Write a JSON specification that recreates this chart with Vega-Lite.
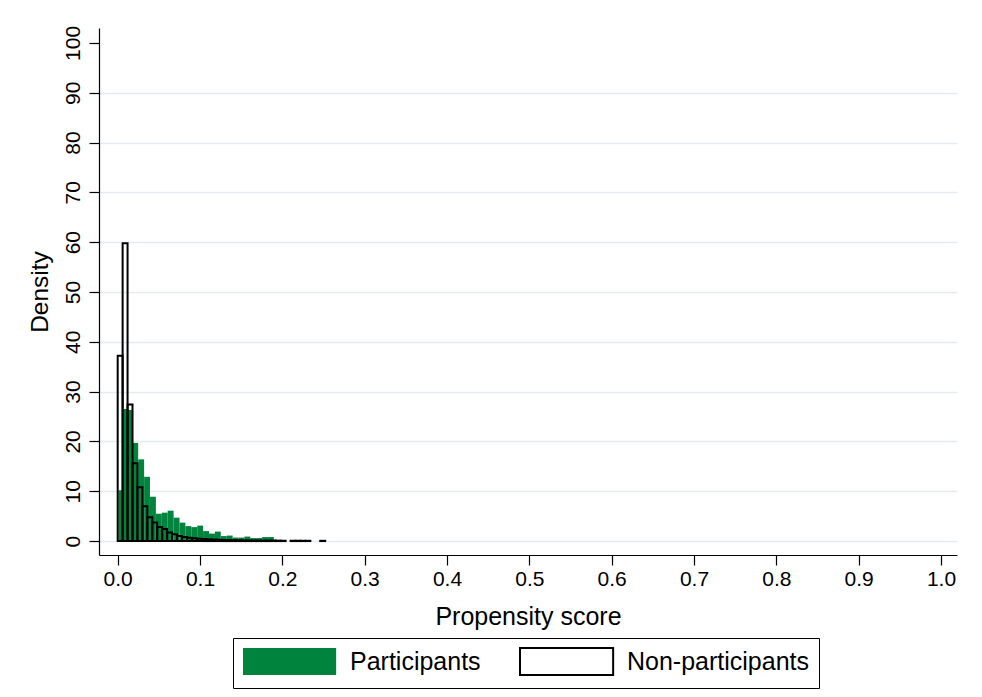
{
  "$schema": "https://vega.github.io/schema/vega-lite/v6.json",
  "width": 858,
  "height": 527,
  "autosize": {"type": "none"},
  "padding": {"left": 99, "top": 28, "right": 25, "bottom": 142},
  "background": "white",
  "config": {
    "font": "Liberation Sans",
    "view": {"stroke": null}
  },
  "data": {
    "values": [
      {"group": "Participants", "start": 0.0010, "end": 0.0070, "density": 10.2},
      {"group": "Participants", "start": 0.0070, "end": 0.0124, "density": 26.5},
      {"group": "Participants", "start": 0.0124, "end": 0.0177, "density": 26.3},
      {"group": "Participants", "start": 0.0177, "end": 0.0249, "density": 19.7},
      {"group": "Participants", "start": 0.0249, "end": 0.0321, "density": 16.4},
      {"group": "Participants", "start": 0.0321, "end": 0.0392, "density": 12.9},
      {"group": "Participants", "start": 0.0392, "end": 0.0464, "density": 8.9},
      {"group": "Participants", "start": 0.0464, "end": 0.0536, "density": 5.5},
      {"group": "Participants", "start": 0.0536, "end": 0.0607, "density": 5.7},
      {"group": "Participants", "start": 0.0607, "end": 0.0679, "density": 6.1},
      {"group": "Participants", "start": 0.0679, "end": 0.0751, "density": 4.7},
      {"group": "Participants", "start": 0.0751, "end": 0.0822, "density": 3.7},
      {"group": "Participants", "start": 0.0822, "end": 0.0894, "density": 3.0},
      {"group": "Participants", "start": 0.0894, "end": 0.0966, "density": 2.8},
      {"group": "Participants", "start": 0.0966, "end": 0.1037, "density": 3.1},
      {"group": "Participants", "start": 0.1037, "end": 0.1109, "density": 2.0},
      {"group": "Participants", "start": 0.1109, "end": 0.1181, "density": 1.5},
      {"group": "Participants", "start": 0.1181, "end": 0.1252, "density": 1.9},
      {"group": "Participants", "start": 0.1252, "end": 0.1324, "density": 1.0},
      {"group": "Participants", "start": 0.1324, "end": 0.1396, "density": 1.1},
      {"group": "Participants", "start": 0.1396, "end": 0.1467, "density": 0.7},
      {"group": "Participants", "start": 0.1467, "end": 0.1539, "density": 0.7},
      {"group": "Participants", "start": 0.1539, "end": 0.1611, "density": 0.9},
      {"group": "Participants", "start": 0.1611, "end": 0.1682, "density": 0.6},
      {"group": "Participants", "start": 0.1682, "end": 0.1754, "density": 0.6},
      {"group": "Participants", "start": 0.1754, "end": 0.1826, "density": 0.8},
      {"group": "Participants", "start": 0.1826, "end": 0.1897, "density": 0.8},
      {"group": "Non-participants", "start": 0.000, "end": 0.006, "density": 37.2},
      {"group": "Non-participants", "start": 0.006, "end": 0.012, "density": 59.8},
      {"group": "Non-participants", "start": 0.012, "end": 0.018, "density": 27.4},
      {"group": "Non-participants", "start": 0.018, "end": 0.024, "density": 15.6},
      {"group": "Non-participants", "start": 0.024, "end": 0.030, "density": 10.8},
      {"group": "Non-participants", "start": 0.030, "end": 0.036, "density": 7.0},
      {"group": "Non-participants", "start": 0.036, "end": 0.042, "density": 4.8},
      {"group": "Non-participants", "start": 0.042, "end": 0.048, "density": 3.7},
      {"group": "Non-participants", "start": 0.048, "end": 0.054, "density": 2.8},
      {"group": "Non-participants", "start": 0.054, "end": 0.060, "density": 2.4},
      {"group": "Non-participants", "start": 0.060, "end": 0.066, "density": 1.7},
      {"group": "Non-participants", "start": 0.066, "end": 0.072, "density": 1.35},
      {"group": "Non-participants", "start": 0.072, "end": 0.078, "density": 1.0},
      {"group": "Non-participants", "start": 0.078, "end": 0.084, "density": 0.8},
      {"group": "Non-participants", "start": 0.084, "end": 0.090, "density": 0.65},
      {"group": "Non-participants", "start": 0.090, "end": 0.096, "density": 0.55},
      {"group": "Non-participants", "start": 0.096, "end": 0.102, "density": 0.45},
      {"group": "Non-participants", "start": 0.102, "end": 0.108, "density": 0.4},
      {"group": "Non-participants", "start": 0.108, "end": 0.114, "density": 0.35},
      {"group": "Non-participants", "start": 0.114, "end": 0.120, "density": 0.3},
      {"group": "Non-participants", "start": 0.120, "end": 0.126, "density": 0.25},
      {"group": "Non-participants", "start": 0.126, "end": 0.132, "density": 0.22},
      {"group": "Non-participants", "start": 0.132, "end": 0.138, "density": 0.2},
      {"group": "Non-participants", "start": 0.138, "end": 0.144, "density": 0.18},
      {"group": "Non-participants", "start": 0.144, "end": 0.150, "density": 0.15},
      {"group": "Non-participants", "start": 0.150, "end": 0.156, "density": 0.13},
      {"group": "Non-participants", "start": 0.156, "end": 0.162, "density": 0.12},
      {"group": "Non-participants", "start": 0.162, "end": 0.168, "density": 0.1},
      {"group": "Non-participants", "start": 0.168, "end": 0.174, "density": 0.1},
      {"group": "Non-participants", "start": 0.174, "end": 0.180, "density": 0.08},
      {"group": "Non-participants", "start": 0.180, "end": 0.186, "density": 0.08},
      {"group": "Non-participants", "start": 0.186, "end": 0.192, "density": 0.1},
      {"group": "Non-participants", "start": 0.192, "end": 0.198, "density": 0.08},
      {"group": "Non-participants", "start": 0.198, "end": 0.204, "density": 0.06},
      {"group": "Non-participants", "start": 0.210, "end": 0.216, "density": 0.06},
      {"group": "Non-participants", "start": 0.216, "end": 0.222, "density": 0.06},
      {"group": "Non-participants", "start": 0.222, "end": 0.228, "density": 0.05},
      {"group": "Non-participants", "start": 0.228, "end": 0.234, "density": 0.05},
      {"group": "Non-participants", "start": 0.246, "end": 0.252, "density": 0.05}
    ]
  },
  "mark": {"type": "rect", "strokeWidth": 2},
  "encoding": {
    "x": {
      "field": "start", "type": "quantitative",
      "scale": {"domain": [-0.0227, 1.0194], "nice": false, "zero": false},
      "axis": {
        "title": "Propensity score",
        "values": [0, 0.1, 0.2, 0.3, 0.4, 0.5, 0.6, 0.7, 0.8, 0.9, 1.0],
        "format": ".1f",
        "grid": false,
        "domainColor": "black", "domainWidth": 1.2,
        "tickColor": "black", "tickSize": 10, "tickWidth": 1.2,
        "labelFontSize": 21, "labelColor": "black", "labelPadding": 3,
        "titleFontSize": 25, "titleFontWeight": "normal", "titleColor": "black", "titlePadding": 15
      }
    },
    "x2": {"field": "end"},
    "y": {
      "field": "density", "type": "quantitative",
      "scale": {"domain": [-2.8, 103], "nice": false, "zero": false},
      "axis": {
        "title": "Density",
        "values": [0, 10, 20, 30, 40, 50, 60, 70, 80, 90, 100],
        "format": "d",
        "grid": true,
        "gridColor": {"condition": {"test": "datum.value === 100", "value": "transparent"}, "value": "#e3edf1"},
        "gridWidth": 1.6,
        "domainColor": "black", "domainWidth": 1.2,
        "tickColor": "black", "tickSize": 10, "tickWidth": 1.2,
        "labelAngle": 270, "labelAlign": "center", "labelBaseline": "bottom",
        "labelFontSize": 21, "labelColor": "black", "labelPadding": 6,
        "titleFontSize": 24.5, "titleFontWeight": "normal", "titleColor": "black", "titlePadding": 10
      }
    },
    "y2": {"datum": 0},
    "fill": {
      "field": "group", "type": "nominal",
      "scale": {"domain": ["Participants", "Non-participants"], "range": ["#00843D", "transparent"]},
      "legend": {
        "title": null,
        "orient": "none", "legendX": 134, "legendY": 610,
        "direction": "horizontal",
        "symbolType": "M-1,-1H5.9V1H-1Z",
        "symbolSize": 729,
        "symbolStrokeWidth": 2,
        "labelOffset": 79,
        "labelFontSize": 25, "labelColor": "black", "labelLimit": 500,
        "columnPadding": 35,
        "padding": 9,
        "strokeColor": "black"
      }
    },
    "stroke": {
      "field": "group", "type": "nominal",
      "scale": {"domain": ["Participants", "Non-participants"], "range": ["transparent", "black"]},
      "legend": {
        "title": null,
        "orient": "none", "legendX": 134, "legendY": 610,
        "direction": "horizontal",
        "symbolType": "M-1,-1H5.9V1H-1Z",
        "symbolSize": 729,
        "symbolStrokeWidth": 2,
        "labelOffset": 79,
        "labelFontSize": 25, "labelColor": "black", "labelLimit": 500,
        "columnPadding": 35,
        "padding": 9,
        "strokeColor": "black"
      }
    }
  }
}
